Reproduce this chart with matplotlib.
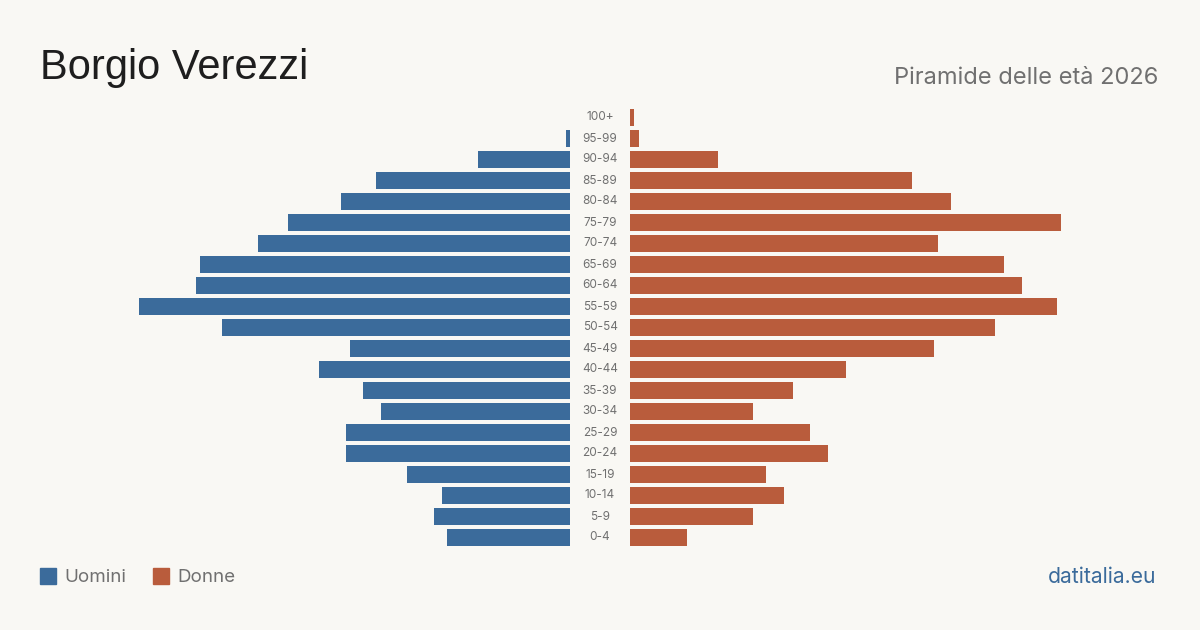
import matplotlib
matplotlib.use("Agg")
import matplotlib.pyplot as plt
from matplotlib.patches import Rectangle

age_groups = ["0-4", "5-9", "10-14", "15-19", "20-24", "25-29", "30-34", "35-39",
              "40-44", "45-49", "50-54", "55-59", "60-64", "65-69", "70-74", "75-79",
              "80-84", "85-89", "90-94", "95-99", "100+"]
men = [28, 31, 29, 37, 51, 51, 43, 47, 57, 50, 79, 98, 85, 84, 71, 64, 52, 44, 21, 1, 0]
women = [13, 28, 35, 31, 45, 41, 28, 37, 49, 69, 83, 97, 89, 85, 70, 98, 73, 64, 20, 2, 1]

BG = "#f9f8f4"
BLUE = "#3b6b9b"
ORANGE = "#b95c3c"
W, H = 1200, 630
XMAX = 100.0

fig = plt.figure(figsize=(W / 100, H / 100), dpi=100, facecolor=BG)

ybot, ytop = 548, 107
axb = 1 - ybot / H
axh = (ybot - ytop) / H
axL = fig.add_axes([130 / W, axb, 440 / W, axh])
axR = fig.add_axes([630 / W, axb, 440 / W, axh])

ys = list(range(len(age_groups)))
axL.barh(ys, men, height=0.8, color=BLUE)
axR.barh(ys, women, height=0.8, color=ORANGE)
axL.set_xlim(XMAX, 0)
axR.set_xlim(0, XMAX)
for ax in (axL, axR):
    ax.set_ylim(-0.5, len(age_groups) - 0.5)
    ax.axis("off")
    ax.set_facecolor("none")

for i, lab in enumerate(age_groups):
    y_pix = 537.5 - i * 21
    fig.text(600 / W, 1 - y_pix / H, lab, ha="center", va="center",
             fontsize=8.5, color="#707070", family="Inter")

fig.text(40 / W, 1 - 68.5 / H, "Borgio Verezzi", ha="left", va="center",
         fontsize=30, color="#1e1e1e", family="Liberation Sans")
fig.text(1158 / W, 1 - 78 / H, "Piramide delle età 2026", ha="right", va="center",
         fontsize=17, color="#707070", family="Inter")

# legend
fig.patches.append(Rectangle((40 / W, 1 - 584 / H), 16 / W, 16 / H,
                             transform=fig.transFigure, color=BLUE))
fig.text(64 / W, 1 - 577.5 / H, "Uomini", ha="left", va="center",
         fontsize=13.5, color="#707070", family="Inter")
fig.patches.append(Rectangle((153 / W, 1 - 584 / H), 16 / W, 16 / H,
                             transform=fig.transFigure, color=ORANGE))
fig.text(177 / W, 1 - 577.5 / H, "Donne", ha="left", va="center",
         fontsize=13.5, color="#707070", family="Inter")

fig.text(1156 / W, 1 - 577 / H, "datitalia.eu", ha="right", va="center",
         fontsize=15.2, color=BLUE, family="Inter")

fig.savefig("out.png", dpi=100, facecolor=BG)
